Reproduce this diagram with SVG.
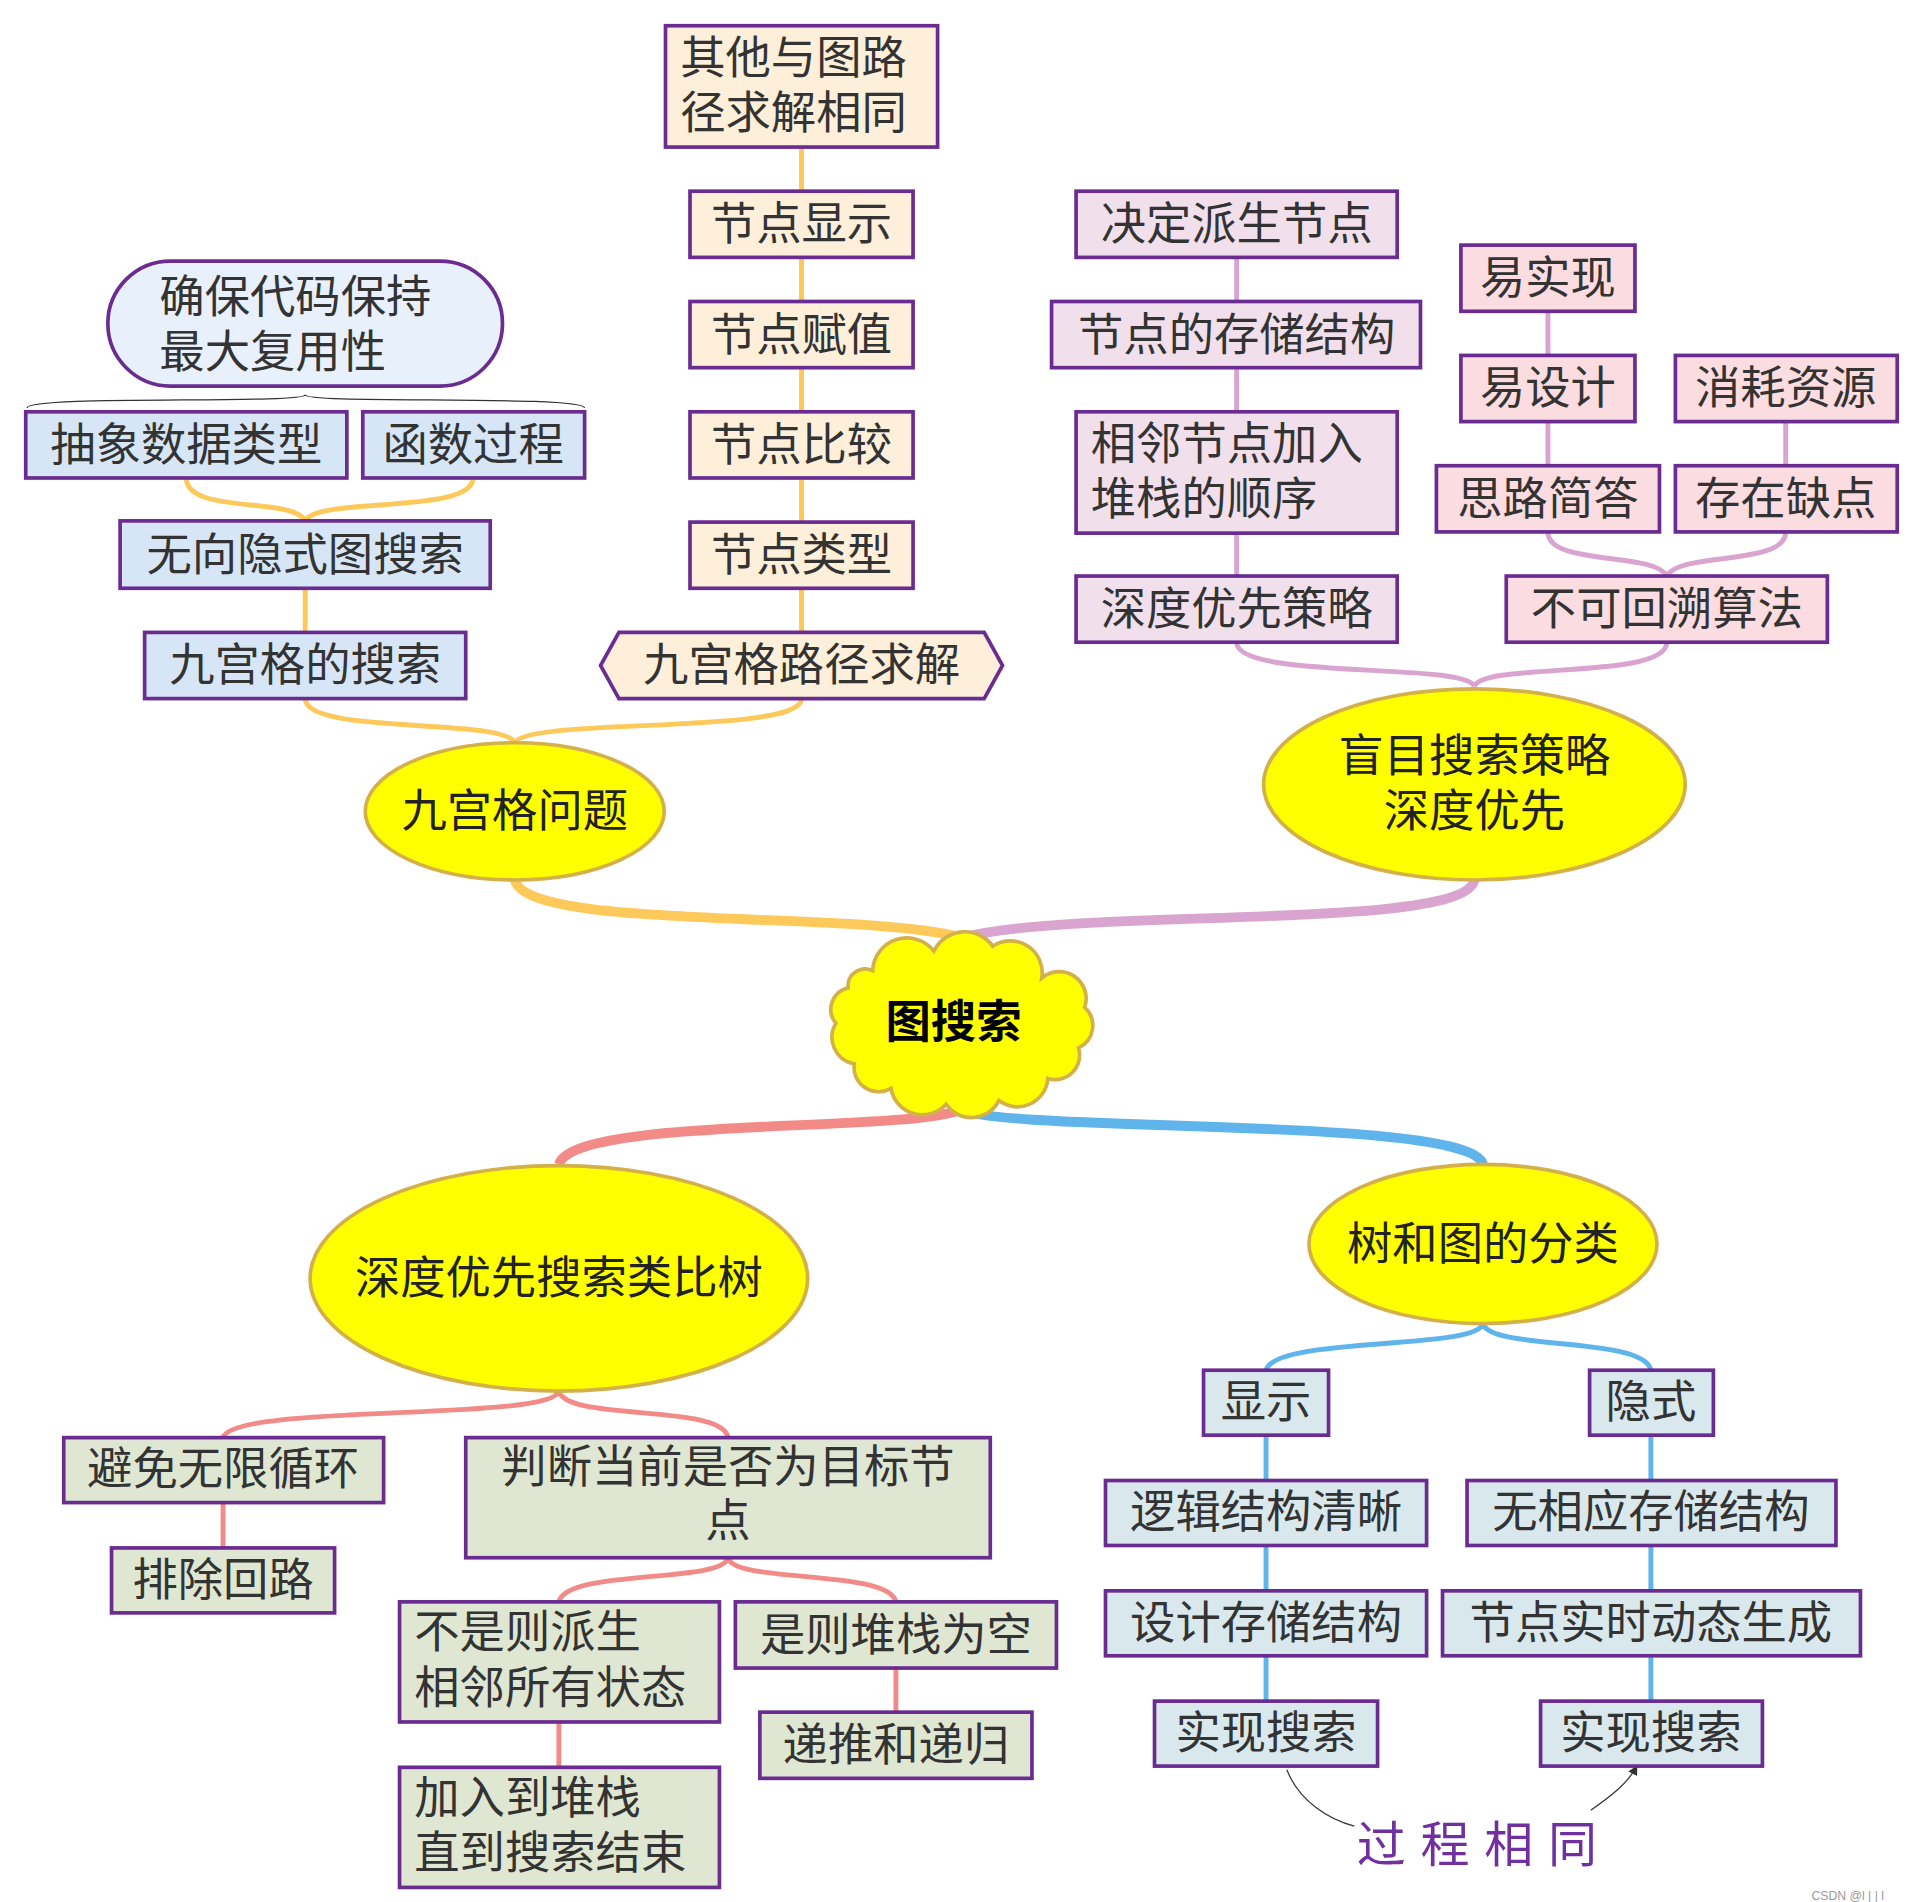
<svg xmlns="http://www.w3.org/2000/svg" width="1912" height="1902" viewBox="0 0 1912 1902">
<style>
text{font-family:"Noto Sans CJK SC","Noto Sans",sans-serif;font-size:37px;fill:#333}
.c{text-anchor:middle}
.b{stroke:#6a2c91;stroke-width:3}
.o{fill:#fdefd9}.lb{fill:#d6e6f7}.pp{fill:#f1e0ec}.pk{fill:#fbdce0}.g{fill:#dfe6d1}.bl{fill:#d9e8ec}
.el{fill:#ffff00;stroke:#d4b04a;stroke-width:3}
.y{stroke:#fcc95a}.p{stroke:#d9a4cf}.r{stroke:#f28b87}.u{stroke:#5fb4ec}
#conn path{fill:none;stroke-width:4}
#conn .m{stroke-width:8}
</style>
<defs><marker id="ah" markerWidth="8" markerHeight="8" refX="6" refY="4" orient="auto"><path d="M0,0 L8,4 L0,8 z" fill="#333"/></marker></defs>
<rect width="1912" height="1902" fill="#fff"/>
<g transform="scale(1.2256)">
<g id="conn">
<path class="y m" d="M420,718 C430,760 700,742 785,765"/>
<path class="p m" d="M1203,718 C1195,760 880,740 785,765"/>
<path class="r m" d="M785,905 C740,925 470,910 456,950"/>
<path class="u m" d="M785,905 C820,925 1200,910 1210,950"/>
<path class="y" d="M654,120 V516"/>
<path class="y" d="M654,570 C654,600 430,585 420,606 M249,570 C249,600 410,585 420,606"/>
<path class="y" d="M152,390 C152,420 240,405 249,425 M386,390 C386,420 258,405 249,425"/>
<path class="y" d="M249,480 V516"/>
<path class="p" d="M1009,210 V470"/>
<path class="p" d="M1263,254 V380 M1457,344 V380"/>
<path class="p" d="M1263,434 C1263,462 1350,450 1360,470 M1457,434 C1457,462 1370,450 1360,470"/>
<path class="p" d="M1009,524 C1009,555 1195,540 1203,560 M1360,524 C1360,555 1210,540 1203,560"/>
<path class="r" d="M456,1135 C450,1160 190,1145 182,1173 M456,1135 C462,1160 590,1145 594,1173"/>
<path class="r" d="M182,1226 V1263"/>
<path class="r" d="M594,1271 C590,1292 462,1280 456,1307 M594,1271 C598,1292 725,1280 731,1307"/>
<path class="r" d="M456,1405 V1442 M731,1361 V1397"/>
<path class="u" d="M1210,1080 C1205,1102 1040,1090 1033,1118 M1210,1080 C1215,1102 1342,1090 1347,1118"/>
<path class="u" d="M1033,1171 V1388 M1347,1171 V1388"/>
<path d="M1050,1444 C1060,1470 1085,1485 1105,1490" style="stroke:#333;stroke-width:1"/>
<path d="M1298,1477 C1315,1465 1328,1455 1335,1442" style="stroke:#333;stroke-width:1" marker-end="url(#ah)"/>
<path d="M22,333 C22,322 249,330 249,322 C249,330 477,322 477,333" style="stroke:#333;stroke-width:1"/>
</g>
<g id="root"><path class="el" d="M712,792 A28,28 0 0 1 762,776 A28,28 0 0 1 810,772 A26,26 0 0 1 850,798 A22,22 0 0 1 885,822 A20,20 0 0 1 880,855 A20,20 0 0 1 855,880 A25,25 0 0 1 815,898 A25,25 0 0 1 772,901 A26,26 0 0 1 727,888 A20,20 0 0 1 697,868 A22,22 0 0 1 682,835 A18,18 0 0 1 692,806 A14,14 0 0 1 712,792 Z"/><text x="778" y="847" class="c" style="fill:#000;font-weight:bold">图搜索</text></g>
<g id="n1"><ellipse class="el" cx="420" cy="662" rx="122" ry="56"/><text x="420" y="675" class="c" style="fill:#222">九宫格问题</text></g>
<g id="n2"><ellipse class="el" cx="1203" cy="640" rx="172" ry="78"/><text x="1203" y="630" class="c" style="fill:#222">盲目搜索策略</text><text x="1203" y="675" class="c" style="fill:#222">深度优先</text></g>
<g id="n3"><ellipse class="el" cx="456" cy="1043" rx="203" ry="92"/><text x="456" y="1056" class="c" style="fill:#222">深度优先搜索类比树</text></g>
<g id="n4"><ellipse class="el" cx="1210" cy="1015" rx="142" ry="65"/><text x="1210" y="1028" class="c" style="fill:#222">树和图的分类</text></g>
<g id="a1"><rect class="b o" x="543" y="21" width="222" height="99"/><text x="555" y="60">其他与图路</text><text x="555" y="105">径求解相同</text></g>
<g id="a2"><rect class="b o" x="563" y="156" width="182" height="54"/><text x="654" y="196" class="c">节点显示</text></g>
<g id="a3"><rect class="b o" x="563" y="246" width="182" height="54"/><text x="654" y="286" class="c">节点赋值</text></g>
<g id="a4"><rect class="b o" x="563" y="336" width="182" height="54"/><text x="654" y="376" class="c">节点比较</text></g>
<g id="a5"><rect class="b o" x="563" y="426" width="182" height="54"/><text x="654" y="466" class="c">节点类型</text></g>
<g id="a6"><polygon class="b o" points="505,516 803,516 818,543 803,570 505,570 490,543"/><text x="654" y="556" class="c">九宫格路径求解</text></g>
<g id="b1"><rect class="b" style="fill:#e8f0fb" x="88" y="213" width="322" height="102" rx="51"/><text x="130" y="255">确保代码保持</text><text x="130" y="300">最大复用性</text></g>
<g id="b2"><rect class="b lb" x="21" y="336" width="262" height="54"/><text x="152" y="376" class="c">抽象数据类型</text></g>
<g id="b3"><rect class="b lb" x="296" y="336" width="181" height="54"/><text x="386" y="376" class="c">函数过程</text></g>
<g id="b4"><rect class="b lb" x="98" y="425" width="302" height="55"/><text x="249" y="466" class="c">无向隐式图搜索</text></g>
<g id="b5"><rect class="b lb" x="118" y="516" width="262" height="54"/><text x="249" y="556" class="c">九宫格的搜索</text></g>
<g id="c1"><rect class="b pp" x="878" y="156" width="262" height="54"/><text x="1009" y="196" class="c">决定派生节点</text></g>
<g id="c2"><rect class="b pp" x="858" y="246" width="301" height="54"/><text x="1009" y="286" class="c">节点的存储结构</text></g>
<g id="c3"><rect class="b pp" x="878" y="336" width="262" height="99"/><text x="890" y="375">相邻节点加入</text><text x="890" y="420">堆栈的顺序</text></g>
<g id="c4"><rect class="b pp" x="878" y="470" width="262" height="54"/><text x="1009" y="510" class="c">深度优先策略</text></g>
<g id="d1"><rect class="b pk" x="1192" y="200" width="142" height="54"/><text x="1263" y="240" class="c">易实现</text></g>
<g id="d2"><rect class="b pk" x="1192" y="290" width="142" height="54"/><text x="1263" y="330" class="c">易设计</text></g>
<g id="d3"><rect class="b pk" x="1172" y="380" width="182" height="54"/><text x="1263" y="420" class="c">思路简答</text></g>
<g id="d4"><rect class="b pk" x="1367" y="290" width="181" height="54"/><text x="1457" y="330" class="c">消耗资源</text></g>
<g id="d5"><rect class="b pk" x="1367" y="380" width="181" height="54"/><text x="1457" y="420" class="c">存在缺点</text></g>
<g id="d6"><rect class="b pk" x="1229" y="470" width="262" height="54"/><text x="1360" y="510" class="c">不可回溯算法</text></g>
<g id="e1"><rect class="b g" x="52" y="1173" width="261" height="53"/><text x="182" y="1212" class="c">避免无限循环</text></g>
<g id="e2"><rect class="b g" x="91" y="1263" width="182" height="53"/><text x="182" y="1302" class="c">排除回路</text></g>
<g id="e3"><rect class="b g" x="380" y="1173" width="428" height="98"/><text x="594" y="1210" class="c">判断当前是否为目标节</text><text x="594" y="1254" class="c">点</text></g>
<g id="e4"><rect class="b g" x="326" y="1307" width="261" height="98"/><text x="338" y="1345">不是则派生</text><text x="338" y="1390">相邻所有状态</text></g>
<g id="e5"><rect class="b g" x="600" y="1307" width="262" height="54"/><text x="731" y="1347" class="c">是则堆栈为空</text></g>
<g id="e6"><rect class="b g" x="326" y="1442" width="261" height="98"/><text x="338" y="1480">加入到堆栈</text><text x="338" y="1525">直到搜索结束</text></g>
<g id="e7"><rect class="b g" x="620" y="1397" width="222" height="54"/><text x="731" y="1437" class="c">递推和递归</text></g>
<g id="f1"><rect class="b bl" x="982" y="1118" width="102" height="53"/><text x="1033" y="1157" class="c">显示</text></g>
<g id="f2"><rect class="b bl" x="902" y="1208" width="262" height="53"/><text x="1033" y="1247" class="c">逻辑结构清晰</text></g>
<g id="f3"><rect class="b bl" x="902" y="1298" width="262" height="53"/><text x="1033" y="1337" class="c">设计存储结构</text></g>
<g id="f4"><rect class="b bl" x="942" y="1388" width="182" height="53"/><text x="1033" y="1427" class="c">实现搜索</text></g>
<g id="g1"><rect class="b bl" x="1297" y="1118" width="101" height="53"/><text x="1347" y="1157" class="c">隐式</text></g>
<g id="g2"><rect class="b bl" x="1197" y="1208" width="301" height="53"/><text x="1347" y="1247" class="c">无相应存储结构</text></g>
<g id="g3"><rect class="b bl" x="1177" y="1298" width="341" height="53"/><text x="1347" y="1337" class="c">节点实时动态生成</text></g>
<g id="g4"><rect class="b bl" x="1257" y="1388" width="181" height="53"/><text x="1347" y="1427" class="c">实现搜索</text></g>
<text x="1107" y="1519" style="fill:#7030a0;font-size:40px;letter-spacing:12px">过程相同</text>
<text x="1478" y="1550" style="fill:#999;font-size:10px;font-family:'Liberation Sans',sans-serif">CSDN @l | | l</text>
</g>
</svg>
